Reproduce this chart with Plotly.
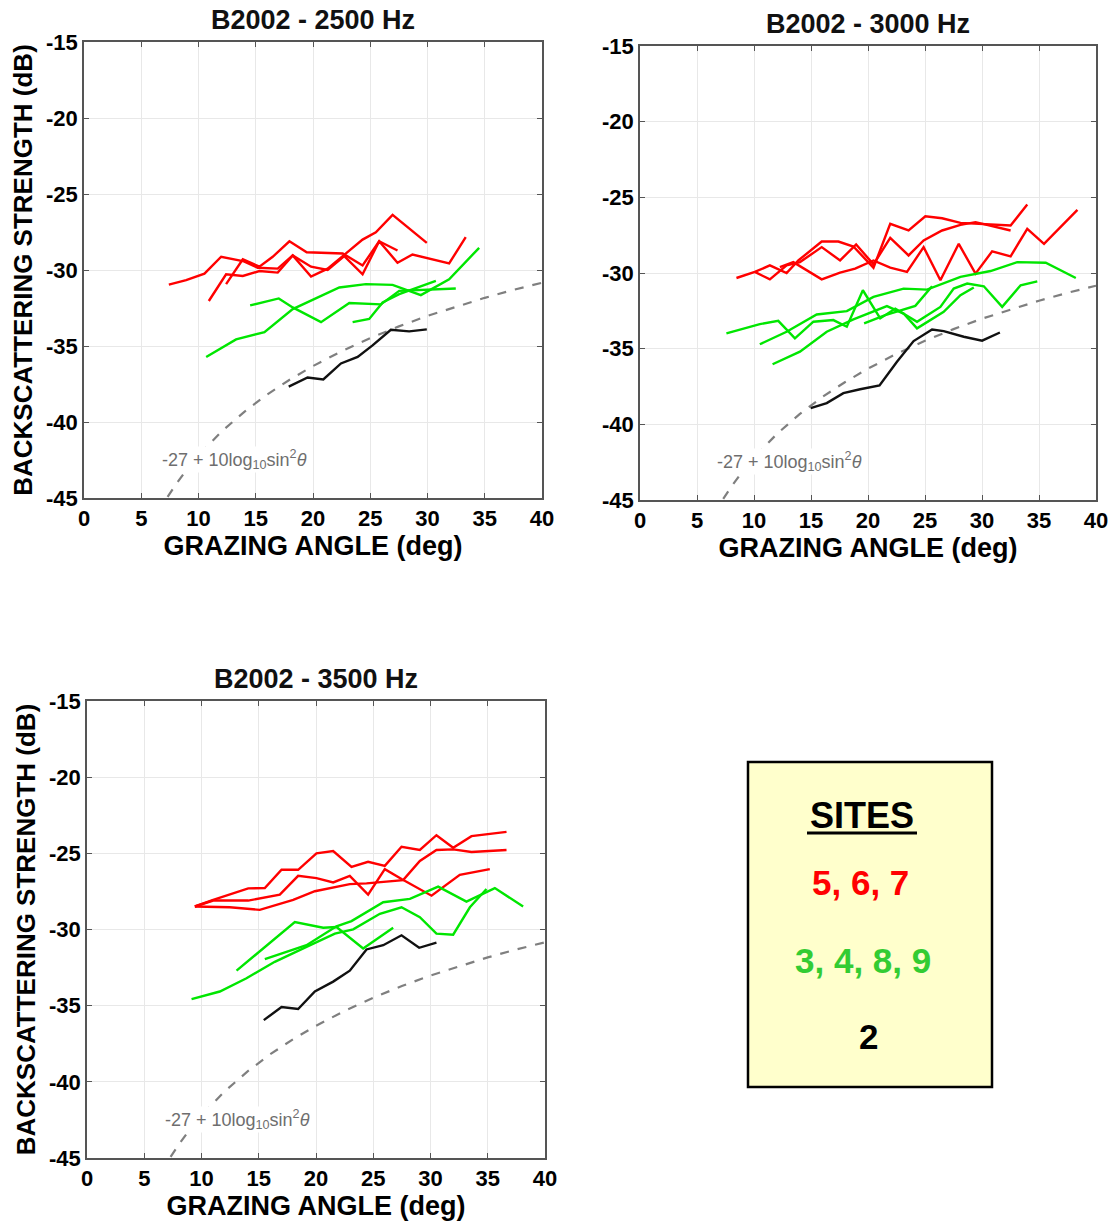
import plotly.graph_objects as go

W, H = 1115, 1226

# ---------------- data ----------------
# Panel 2500 Hz
x2500_red_a = [7.41, 8.92, 10.52, 11.98, 13.87, 15.17, 16.92, 18.23, 19.83, 21.28, 22.88, 24.33, 25.49, 26.95, 29.94]
y2500_red_a = [-30.96, -30.67, -30.24, -29.13, -29.41, -29.85, -29.91, -29.04, -30.43, -29.91, -28.91, -28.0, -27.52, -26.37, -28.22]
x2500_red_b = [10.90, 12.41, 13.87, 15.32, 16.92, 18.23, 19.83, 21.28, 22.73, 24.33, 25.78, 27.38]
y2500_red_b = [-32.04, -30.28, -30.39, -30.07, -30.17, -29.04, -29.78, -30.0, -29.09, -30.28, -28.11, -28.72]
x2500_red_c = [12.41, 13.87, 15.32, 16.48, 17.94, 19.45, 22.59, 24.33, 25.78, 27.38, 28.69, 31.89, 33.34]
y2500_red_c = [-30.93, -29.30, -29.78, -29.13, -28.11, -28.83, -28.91, -29.70, -28.11, -29.52, -28.98, -29.57, -27.83]
x2500_grn_a = [10.67, 13.28, 15.76, 18.23, 22.30, 24.62, 26.95, 29.42, 31.89, 34.51]
y2500_grn_a = [-35.72, -34.57, -34.09, -32.57, -31.15, -30.93, -30.98, -31.65, -30.61, -28.54]
x2500_grn_b = [14.51, 17.01, 18.23, 20.70, 23.17, 25.93, 27.53, 32.47]
y2500_grn_b = [-32.33, -31.87, -32.46, -33.43, -32.17, -32.26, -31.37, -31.22]
x2500_grn_c = [23.46, 24.91, 26.08, 27.53, 30.73]
y2500_grn_c = [-33.43, -33.22, -32.13, -31.59, -30.72]
x2500_blk = [17.88, 19.53, 20.90, 22.44, 23.90, 25.20, 26.80, 28.40, 29.94]
y2500_blk = [-37.67, -37.07, -37.20, -36.15, -35.72, -34.96, -33.93, -34.04, -33.91]

# Panel 3000 Hz
x3000_red_a = [8.46, 10.07, 11.39, 12.86, 13.89, 15.94, 17.40, 18.72, 20.48, 21.95, 23.56, 25.03, 26.50, 28.11, 32.51, 33.97]
y3000_red_a = [-30.33, -29.93, -29.50, -30.0, -29.17, -27.92, -27.92, -28.25, -29.65, -26.75, -27.19, -26.25, -26.38, -26.69, -26.86, -25.48]
x3000_red_b = [10.07, 11.39, 12.86, 14.03, 15.94, 17.55, 18.96, 20.48, 21.95, 23.56, 24.88, 26.50, 28.11, 29.43, 32.51]
y3000_red_b = [-29.93, -30.42, -29.50, -29.28, -28.29, -29.17, -28.11, -29.43, -27.68, -28.84, -27.85, -27.19, -26.82, -26.64, -27.19]
x3000_red_c = [12.27, 13.45, 15.94, 17.55, 18.87, 20.48, 21.95, 23.42, 24.88, 26.35, 27.96, 29.43, 30.89, 32.51, 33.97, 35.44, 38.37]
y3000_red_c = [-29.61, -29.28, -30.42, -29.98, -29.71, -29.17, -29.65, -29.93, -28.29, -30.48, -28.07, -30.04, -28.57, -28.90, -27.08, -28.07, -25.83]
x3000_grn_a = [7.58, 10.51, 12.13, 13.59, 15.21, 16.96, 18.14, 19.55, 21.07, 22.39, 24.30, 26.35, 27.52, 28.70, 30.16, 31.77, 33.39, 34.85]
y3000_grn_a = [-33.99, -33.38, -33.16, -34.32, -33.22, -33.11, -33.55, -31.14, -33.00, -32.35, -33.22, -32.24, -31.03, -30.70, -30.88, -32.24, -30.81, -30.55]
x3000_grn_b = [10.51, 12.86, 15.50, 18.14, 20.48, 23.12, 25.18, 28.11, 30.75, 33.09, 35.59, 38.23]
y3000_grn_b = [-34.71, -33.88, -32.74, -32.52, -31.58, -31.03, -31.10, -30.26, -29.87, -29.28, -29.32, -30.33]
x3000_grn_c = [11.63, 14.03, 16.38, 18.72, 21.66, 23.12, 24.30, 26.64, 28.11, 29.28]
y3000_grn_c = [-36.03, -35.20, -33.88, -33.07, -32.19, -32.68, -33.66, -32.57, -31.47, -30.96]
x3000_grn_d = [19.66, 21.51, 24.15, 25.62]
y3000_grn_d = [-33.33, -32.79, -32.17, -30.88]
x3000_blk = [14.97, 16.38, 17.84, 19.31, 21.01, 22.54, 24.0, 25.62, 26.64, 28.40, 30.01, 31.57]
y3000_blk = [-38.93, -38.60, -37.94, -37.68, -37.43, -35.86, -34.50, -33.73, -33.84, -34.21, -34.47, -33.93]

# Panel 3500 Hz
x3500_red_a = [9.42, 11.02, 14.08, 15.53, 16.99, 18.44, 20.04, 21.50, 23.10, 24.55, 26.01, 27.47, 29.07, 30.52, 31.98, 33.58, 36.64]
y3500_red_a = [-28.49, -28.06, -27.30, -27.28, -26.08, -26.08, -25.0, -24.85, -25.89, -25.56, -25.82, -24.57, -24.78, -23.81, -24.63, -23.87, -23.59]
x3500_red_b = [9.42, 12.47, 15.09, 18.01, 19.90, 22.95, 24.41, 26.16, 27.61, 29.07, 30.52, 31.98, 33.58, 36.64]
y3500_red_b = [-28.49, -28.54, -28.71, -28.06, -27.49, -27.02, -26.97, -26.87, -26.76, -25.50, -24.78, -24.74, -24.91, -24.78]
x3500_red_c = [9.42, 11.02, 14.08, 16.84, 18.44, 20.04, 21.50, 22.95, 24.55, 26.01, 27.47, 30.09, 32.56, 35.18]
y3500_red_c = [-28.49, -28.10, -28.10, -27.71, -26.48, -26.63, -26.91, -26.48, -27.71, -26.04, -26.69, -27.78, -26.41, -26.04]
x3500_grn_a = [9.13, 11.60, 13.93, 16.40, 19.17, 21.65, 23.25, 25.58, 27.47, 29.07, 30.52, 31.98, 33.44, 34.89]
y3500_grn_a = [-34.57, -34.07, -33.20, -32.12, -31.14, -30.27, -29.99, -28.97, -28.54, -29.19, -30.27, -30.34, -28.54, -27.34]
x3500_grn_b = [15.53, 19.17, 21.79, 23.10, 25.87, 28.20, 30.67, 33.14, 35.62, 38.09]
y3500_grn_b = [-31.94, -31.03, -29.79, -29.45, -28.21, -27.99, -27.19, -28.17, -27.28, -28.49]
x3500_grn_c = [13.06, 18.15, 20.63, 21.79, 24.12, 26.74]
y3500_grn_c = [-32.70, -29.51, -29.88, -29.84, -31.25, -29.88]
x3500_blk = [15.44, 16.99, 18.44, 19.90, 21.50, 22.95, 24.41, 25.87, 27.47, 29.01, 30.52]
y3500_blk = [-35.95, -35.09, -35.22, -34.07, -33.42, -32.70, -31.31, -31.03, -30.38, -31.20, -30.86]

# model curve -27 + 10log10 sin^2(theta)
model_x = [7.3, 8, 9, 10, 12, 14, 16, 18, 20, 22.5, 25, 27.5, 30, 32.5, 35, 37.5, 40]
model_y = [-44.92, -44.13, -43.11, -42.21, -40.64, -39.33, -38.19, -37.20, -36.32, -35.34,
           -34.48, -33.71, -33.02, -32.40, -31.83, -31.31, -30.84]

panel_titles = ["B2002 - 2500 Hz", "B2002 - 3000 Hz", "B2002 - 3500 Hz"]
x_ticks = [0, 5, 10, 15, 20, 25, 30, 35, 40]
x_tick_text = ["0", "5", "10", "15", "20", "25", "30", "35", "40"]
y_ticks = [-45, -40, -35, -30, -25, -20, -15]
y_tick_text = ["-45", "-40", "-35", "-30", "-25", "-20", "-15"]
legend_title = "SITES"
legend_groups = ["5, 6, 7", "3, 4, 8, 9", "2"]

RED = "#ff0000"
GREEN = "#00e600"
BLACK = "#111111"
FONT = "Liberation Sans, Arial, sans-serif"

panels = [
    {"red": [(x2500_red_a, y2500_red_a), (x2500_red_b, y2500_red_b), (x2500_red_c, y2500_red_c)],
     "green": [(x2500_grn_a, y2500_grn_a), (x2500_grn_b, y2500_grn_b), (x2500_grn_c, y2500_grn_c)],
     "black": [(x2500_blk, y2500_blk)]},
    {"red": [(x3000_red_a, y3000_red_a), (x3000_red_b, y3000_red_b), (x3000_red_c, y3000_red_c)],
     "green": [(x3000_grn_a, y3000_grn_a), (x3000_grn_b, y3000_grn_b), (x3000_grn_c, y3000_grn_c),
               (x3000_grn_d, y3000_grn_d)],
     "black": [(x3000_blk, y3000_blk)]},
    {"red": [(x3500_red_a, y3500_red_a), (x3500_red_b, y3500_red_b), (x3500_red_c, y3500_red_c)],
     "green": [(x3500_grn_a, y3500_grn_a), (x3500_grn_b, y3500_grn_b), (x3500_grn_c, y3500_grn_c)],
     "black": [(x3500_blk, y3500_blk)]},
]

# plot-area pixel boxes (left, right, top, bottom)
boxes = [(84, 542, 42, 498), (640, 1096, 46, 500), (87, 545, 701, 1158)]

fig = go.Figure()
for i, p in enumerate(panels):
    xa = "x" if i == 0 else f"x{i+1}"
    ya = "y" if i == 0 else f"y{i+1}"
    fig.add_trace(go.Scatter(x=model_x, y=model_y, mode="lines", xaxis=xa, yaxis=ya,
                             line=dict(color="#7f7f7f", width=2.2, dash="dash"), showlegend=False,
                             hoverinfo="skip"))
    for colr, key in [(RED, "red"), (GREEN, "green"), (BLACK, "black")]:
        for xs, ys in p[key]:
            fig.add_trace(go.Scatter(x=xs, y=ys, mode="lines", xaxis=xa, yaxis=ya,
                                     line=dict(color=colr, width=2.4), showlegend=False))

layout = dict(width=W, height=H, margin=dict(l=0, r=0, t=0, b=0, autoexpand=False),
              paper_bgcolor="white", plot_bgcolor="white", showlegend=False)

annotations = []
for i, (l, r, t, b) in enumerate(boxes):
    sx = "" if i == 0 else str(i + 1)
    xd = [l / W, r / W]
    yd = [1 - b / H, 1 - t / H]
    axis_common = dict(showline=True, linecolor="#555555", linewidth=1.5, mirror="ticks",
                       ticks="inside", ticklen=5, tickcolor="#555555", showgrid=True,
                       gridcolor="#e8e8e8", gridwidth=1, zeroline=False, automargin=False,
                       tickfont=dict(family=FONT, size=22, color="black", weight="bold"))
    layout["xaxis" + sx] = dict(axis_common, domain=xd, range=[0, 40], tickvals=x_ticks,
                                ticktext=x_tick_text, anchor="y" + sx,
                                title=dict(text="<b>GRAZING ANGLE (deg)</b>", standoff=5,
                                           font=dict(family=FONT, size=27, color="black")))
    yax = dict(axis_common, domain=yd, range=[-45, -15], tickvals=y_ticks, ticktext=y_tick_text,
               anchor="x" + sx)
    if i != 1:
        yax["title"] = dict(text="<b>BACKSCATTERING STRENGTH (dB)</b>", standoff=6,
                            font=dict(family=FONT, size=26, color="black"))
    layout["yaxis" + sx] = yax
    # panel title
    annotations.append(dict(text=f"<b>{panel_titles[i]}</b>", xref="paper", yref="paper",
                            x=(l + r) / 2 / W, y=1 - (t - 5) / H, xanchor="center", yanchor="bottom",
                            showarrow=False, font=dict(family=FONT, size=27, color="#111111")))
    # model formula label
    annotations.append(dict(text="-27 + 10log<sub>10</sub>sin<sup>2</sup><i>θ</i>",
                            xref="x" + sx, yref="y" + sx, x=6.7, y=-42.45, xanchor="left",
                            yanchor="middle", showarrow=False, bgcolor="white", borderpad=0,
                            font=dict(family=FONT, size=18, color="#6e6e6e")))

# legend box
bx0, bx1, by0, by1 = 748, 992, 762, 1087
shapes = [dict(type="rect", xref="paper", yref="paper", x0=bx0 / W, x1=bx1 / W,
               y0=1 - by1 / H, y1=1 - by0 / H, fillcolor="#ffffcc",
               line=dict(color="black", width=2.5)),
          dict(type="line", xref="paper", yref="paper", x0=807 / W, x1=917 / W,
               y0=1 - 833 / H, y1=1 - 833 / H, line=dict(color="black", width=3))]
legend_text = [(legend_title, 862, 815, "black", 36),
               (legend_groups[0], 860, 882, RED, 35),
               (legend_groups[1], 863, 960, "#33cc33", 35),
               (legend_groups[2], 868, 1036, "black", 35)]
for txt, cx, cy, col, sz in legend_text:
    annotations.append(dict(text=f"<b>{txt}</b>", xref="paper", yref="paper", x=cx / W,
                            y=1 - cy / H, xanchor="center", yanchor="middle", showarrow=False,
                            font=dict(family=FONT, size=sz, color=col)))

layout["annotations"] = annotations
layout["shapes"] = shapes
fig.update_layout(**layout)
fig.write_html("out.html")
